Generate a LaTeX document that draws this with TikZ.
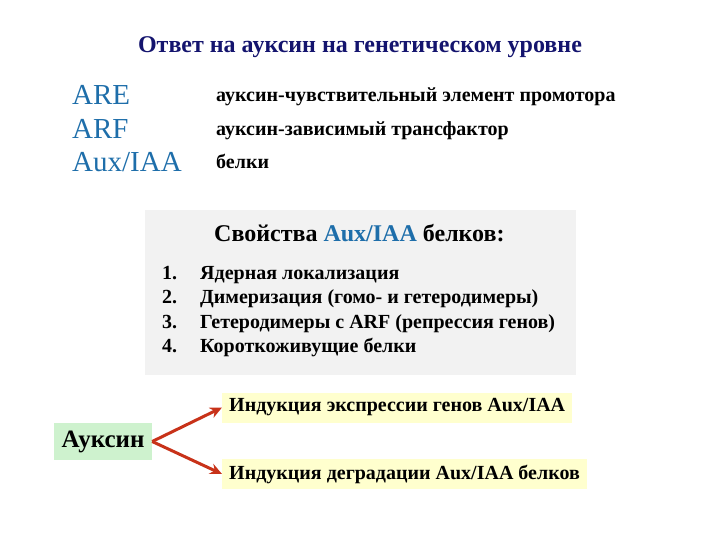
\documentclass[tikz,border=0pt]{standalone}
\usepackage{fontspec}
\setmainfont{Liberation Serif}
\usetikzlibrary{positioning,arrows.meta}
\definecolor{navy}{RGB}{20,20,110}
\definecolor{steel}{RGB}{30,110,170}
\definecolor{panel}{RGB}{242,242,242}
\definecolor{leaf}{RGB}{206,242,206}
\definecolor{cream}{RGB}{255,255,206}
\definecolor{rust}{RGB}{200,50,25}

\begin{document}
\begin{tikzpicture}[x=1pt,y=-1pt
		,every node/.append style={inner sep=0pt}
		,abbr/.style={anchor=base west, text=steel, font=\fontsize{29}{31}\selectfont}
		,def/.style={anchor=base west, font=\bfseries\fontsize{20}{22}\selectfont}
		,item/.style={anchor=base west, font=\bfseries\fontsize{20}{22}\selectfont}
		,yb/.style={anchor=west, fill=cream, inner xsep=7pt, minimum height=30pt, font=\bfseries\fontsize{20}{22}\selectfont}
		,arr/.style={draw=rust, line width=3pt, -{Stealth[length=12pt,width=11pt]}}
	]
		\useasboundingbox (0,0) rectangle (720,540);
		\node [anchor=base, text=navy, font=\bfseries\fontsize{24}{26}\selectfont] (T) at (360,53) {Ответ на ауксин на генетическом уровне};
		% terms
		\node [abbr] (ARE) at (72,105) {ARE};
		\node [abbr] (ARF) at (72,139) {ARF};
		\node [abbr] (IAA) at (72,172) {Aux/IAA};
		\node [def] (d1) at (216,102) {ауксин-чувствительный элемент промотора};
		\node [def] (d2) at (216,136) {ауксин-зависимый трансфактор};
		\node [def] (d3) at (216,169) {белки};
		% properties
		\fill [panel] (145,210) rectangle (576,375);
		\node [anchor=base west, font=\bfseries\fontsize{24}{26}\selectfont] (H) at (214,241) {Свойства \textcolor{steel}{Aux/IAA} белков:};
		\foreach \n/\t [count=\i] in {
				279/Ядерная локализация,
				303/Димеризация (гомо- и гетеродимеры),
				328/Гетеродимеры с ARF (репрессия генов),
				352/Короткоживущие белки}
			{
				\node [item] (n\i) at (162,\n) {\i.};
				\node [item] (p\i) at (200,\n) {\t};
			}
		% auxin
		\node [fill=leaf, minimum width=98pt, minimum height=37pt, font=\bfseries\fontsize{25}{27}\selectfont] (A) at (103,441.5) {Ауксин};
		\node [yb] (U) at (222,407.5) {Индукция экспрессии генов Aux/IAA};
		\node [yb] (D) at (222,474) {Индукция деградации Aux/IAA белков};
		\draw [arr] (A.east) -- (U.west);
		\draw [arr] (A.east) -- (D.west);
	\end{tikzpicture}
\end{document}
